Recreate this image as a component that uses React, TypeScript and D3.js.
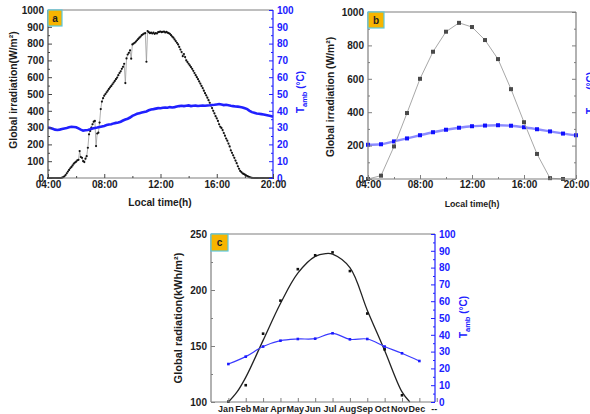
import React, { useEffect, useRef } from 'react';
import * as d3 from 'd3';

const WIDTH = 590;
const HEIGHT = 414;
const FONT = '"Liberation Sans", Arial, Helvetica, sans-serif';
const BLUE = '#2020ff';
const FRAME = '#7f7f7f';
const INK = '#1c1c1c';

// ---- (a) one measured day from 04:00, irradiation every 5 min, Tamb every 10 min
const A_START_HOUR = 4;
const A_IRR_STEP_MIN = 5;
const A_TEMP_STEP_MIN = 10;
const irradiationA = [
  /* 04 */ 0, 0, 0, 0, 0, 0, 0, 0, 0, 0, 0, 0,
  /* 05 */ 2, 5, 10, 18, 28, 38, 48, 58, 66, 75, 85, 92,
  /* 06 */ 97, 105, 108, 160, 125, 120, 100, 95, 115, 130, 180, 260,
  /* 07 */ 280, 300, 320, 335, 340, 190, 265, 270, 330, 410, 455, 475,
  /* 08 */ 490, 500, 510, 520, 530, 540, 548, 558, 568, 578, 588, 598,
  /* 09 */ 612, 625, 635, 650, 662, 680, 565, 712, 735, 745, 760, 710,
  /* 10 */ 795, 800, 805, 812, 820, 828, 835, 842, 850, 855, 860, 862,
  /* 11 */ 692, 875, 868, 862, 865, 860, 865, 858, 862, 860, 868, 870,
  /* 12 */ 872, 868, 870, 872, 866, 870, 865, 862, 858, 850, 842, 835,
  /* 13 */ 825, 815, 805, 795, 780, 765, 750, 725, 738, 720, 700, 690,
  /* 14 */ 680, 670, 660, 650, 638, 625, 612, 600, 588, 575, 562, 548,
  /* 15 */ 535, 520, 505, 492, 478, 463, 448, 432, 416, 400, 385, 368,
  /* 16 */ 355, 340, 320, 305, 298, 285, 268, 252, 235, 222, 205, 188,
  /* 17 */ 165, 150, 135, 120, 104, 88, 70, 55, 42, 35, 28, 24,
  /* 18 */ 20, 16, 12, 8, 5, 3, 1, 0, 0, 0, 0, 0,
  /* 19 */ 0, 0, 0, 0, 0, 0, 0, 0, 0, 0, 0, 0,
  /* 20 */ 0,
];
const tempA = [
  /* 04 */ 30, 29.8, 29.3, 28.8, 28.6, 28.8,
  /* 05 */ 29.2, 29.5, 29.8, 30.2, 30.5, 30.4,
  /* 06 */ 30.2, 29.5, 28.8, 28.2, 28.4, 28.6,
  /* 07 */ 29.0, 29.5, 29.8, 30.0, 30.4, 30.7,
  /* 08 */ 31.0, 31.5, 31.8, 32.0, 32.5, 32.8,
  /* 09 */ 33.0, 33.5, 34.2, 34.8, 35.3, 36.0,
  /* 10 */ 37.0, 37.6, 38.2, 38.6, 39.0, 39.3,
  /* 11 */ 39.6, 40.3, 40.8, 41.0, 41.3, 41.6,
  /* 12 */ 41.5, 41.8, 42.0, 41.8, 42.2, 42.0,
  /* 13 */ 42.2, 42.5, 42.8, 43.0, 42.8, 43.0,
  /* 14 */ 43.2, 42.8, 43.0, 43.1, 42.9, 43.0,
  /* 15 */ 43.1, 43.0, 43.2, 43.3, 43.5, 43.6,
  /* 16 */ 43.8, 44.0, 43.7, 43.4, 43.6, 43.3,
  /* 17 */ 43.0, 42.8, 42.6, 42.5, 42.3, 42.0,
  /* 18 */ 41.5, 41.0, 40.0, 39.2, 38.8, 38.4,
  /* 19 */ 38.2, 38.0, 37.8, 37.5, 37.2, 36.9,
  /* 20 */ 36.5,
];

// ---- (b) hourly mean day
const hoursB = [4, 5, 6, 7, 8, 9, 10, 11, 12, 13, 14, 15, 16, 17, 18, 19];
const irradiationB = [0, 20, 195, 395, 600, 762, 882, 935, 910, 832, 718, 538, 340, 150, 5, 0];
const hoursTempB = [4, 5, 6, 7, 8, 9, 10, 11, 12, 13, 14, 15, 16, 17, 18, 19, 20];
const tempB = [20.5, 20.8, 22.5, 24.3, 26.2, 28.0, 29.5, 30.7, 31.6, 32.0, 32.2, 31.9, 31.0, 29.8, 28.5, 27.2, 26.2];

// ---- (c) monthly totals
const monthLabels = ['Jan', 'Feb', 'Mar', 'Apr', 'May', 'Jun', 'Jul', 'Aug', 'Sep', 'Oct', 'Nov', 'Dec', '--'];
const radiationC = [100.3, 115, 161, 190.5, 218.6, 231, 233.6, 216.9, 179, 147, 106];
const tempC = [22.6, 27, 33, 36.5, 37.5, 37.7, 40.9, 37.3, 37.5, 33, 29, 24.4];
// fitted curve (month position, kWh/m²)
const fitPosC = [1, 1.5, 2, 3, 4, 5, 6, 6.6, 7, 8, 9, 10, 11, 11.45];
const fitValC = [100, 109, 122, 155, 188, 215, 230, 232.5, 232, 220, 182, 146, 109, 100];

// ticks
const timeMajor = [4, 8, 12, 16, 20];
const timeMinor = [6, 10, 14, 18];
const irrTicksA = [0, 100, 200, 300, 400, 500, 600, 700, 800, 900, 1000];
const irrMinorA = [50, 150, 250, 350, 450, 550, 650, 750, 850, 950];
const pctTicks = [0, 10, 20, 30, 40, 50, 60, 70, 80, 90, 100];
const pctMinor = [5, 15, 25, 35, 45, 55, 65, 75, 85, 95];
const irrTicksB = [0, 200, 400, 600, 800, 1000];
const irrMinorB = [100, 300, 500, 700, 900];
const tempTicksB = [0, 20, 40, 60, 80, 100];
const tempMinorB = [10, 30, 50, 70, 90];
const radTicksC = [100, 150, 200, 250];
const radMinorC = [125, 175, 225];

const hh = (h) => `${String(h).padStart(2, '0')}:00`;

function styleText(sel, color = INK, size = 10) {
  sel
    .attr('fill', color)
    .attr('font-family', FONT)
    .attr('font-weight', 'bold')
    .attr('font-size', size);
}

// inward ticks: majors 4px with labels, minors 2px
function axis(svg, make, scale, pos, majors, minors, color, labelColor, fmt, pad = 4) {
  const g = svg.append('g').attr('transform', pos);
  g.call(make(scale).tickValues(majors).tickSize(-4).tickPadding(pad).tickFormat(fmt));
  g.select('.domain').remove();
  g.selectAll('line').attr('stroke', color);
  styleText(g.selectAll('text'), labelColor);
  if (minors) {
    const m = svg.append('g').attr('transform', pos);
    m.call(make(scale).tickValues(minors).tickSize(-2).tickFormat(() => ''));
    m.select('.domain').remove();
    m.selectAll('line').attr('stroke', color);
  }
  return g;
}

function frame(svg, x0, x1, y0, y1, rightColor = FRAME, leftColor = FRAME) {
  const seg = (a, b, c, d, col) =>
    svg.append('line').attr('x1', a).attr('x2', b).attr('y1', c).attr('y2', d)
      .attr('stroke', col).attr('stroke-width', 1.2);
  seg(x0, x1, y0, y0, FRAME);
  seg(x0, x1, y1, y1, FRAME);
  seg(x0, x0, y0, y1, leftColor);
  seg(x1, x1, y0, y1, rightColor);
}

function badge(svg, x, y, w, h, label) {
  svg.append('rect').attr('x', x).attr('y', y).attr('width', w).attr('height', h)
    .attr('fill', '#f7b500').attr('stroke', '#5bc8dc').attr('stroke-width', 1.2);
  styleText(svg.append('text').attr('x', x + w / 2).attr('y', y + h / 2 + 3.5)
    .attr('text-anchor', 'middle').text(label), '#222', 10);
}

function vTitle(svg, x, y, parts, color, size) {
  const t = svg.append('text').attr('transform', `translate(${x},${y}) rotate(-90)`)
    .attr('text-anchor', 'middle');
  styleText(t, color, size);
  parts.forEach(([txt, kind]) => {
    const s = t.append('tspan').text(txt);
    if (kind === 'sub') s.attr('font-size', size * 0.75).attr('dy', 2.5);
    if (kind === 'after') s.attr('dy', -2.5);
  });
}

const tambParts = [['T', ''], ['amb', 'sub'], [' (°C)', 'after']];

export default function App() {
  const ref = useRef(null);

  useEffect(() => {
    const svg = d3.select(ref.current);
    svg.selectAll('*').remove();
    svg.append('rect').attr('width', WIDTH).attr('height', HEIGHT).attr('fill', 'white');

    // ================= (a)
    {
      const x = d3.scaleLinear().domain([4, 20]).range([48, 273]);
      const y = d3.scaleLinear().domain([0, 1000]).range([178, 10]);
      const t = d3.scaleLinear().domain([0, 100]).range([178, 10]);
      const irr = irradiationA.map((v, i) => ({ h: A_START_HOUR + (i * A_IRR_STEP_MIN) / 60, v }));
      const tmp = tempA.map((v, i) => ({ h: A_START_HOUR + (i * A_TEMP_STEP_MIN) / 60, v }));

      svg.append('path').datum(irr).attr('fill', 'none').attr('stroke', '#9a9a9a').attr('stroke-width', 0.8)
        .attr('d', d3.line().x((d) => x(d.h)).y((d) => y(d.v)));
      svg.append('g').selectAll('circle').data(irr).enter().append('circle')
        .attr('cx', (d) => x(d.h)).attr('cy', (d) => y(d.v)).attr('r', 1.1).attr('fill', '#111');

      svg.append('path').datum(tmp).attr('fill', 'none').attr('stroke', BLUE).attr('stroke-width', 2.6)
        .attr('d', d3.line().x((d) => x(d.h)).y((d) => t(d.v)));

      frame(svg, 48, 273, 10, 178, BLUE, '#444');
      axis(svg, d3.axisLeft, y, 'translate(48,0)', irrTicksA, irrMinorA, '#444', INK, (d) => d);
      axis(svg, d3.axisRight, t, 'translate(273,0)', pctTicks, pctMinor, BLUE, BLUE, (d) => d);
      axis(svg, d3.axisBottom, x, 'translate(0,178)', timeMajor, timeMinor, '#444', INK, hh, 3);
      badge(svg, 48, 10, 14, 16, 'a');

      vTitle(svg, 17, 90, [['Global irradiation(W/m²)', '']], INK, 10.3);
      vTitle(svg, 304, 92, tambParts, BLUE, 10);
      styleText(svg.append('text').attr('x', 160).attr('y', 206).attr('text-anchor', 'middle')
        .text('Local time(h)'), INK, 10.2);
    }

    // ================= (b)
    {
      const x = d3.scaleLinear().domain([4, 20]).range([368, 576]);
      const y = d3.scaleLinear().domain([0, 1000]).range([179, 12]);
      const t = d3.scaleLinear().domain([0, 100]).range([179, 12]);
      const irr = hoursB.map((h, i) => ({ h, v: irradiationB[i] }));
      const tmp = hoursTempB.map((h, i) => ({ h, v: tempB[i] }));

      svg.append('path').datum(tmp).attr('fill', 'none').attr('stroke', '#8c8cff').attr('stroke-width', 2.4)
        .attr('d', d3.line().x((d) => x(d.h)).y((d) => t(d.v)).curve(d3.curveMonotoneX));
      svg.append('g').selectAll('rect').data(tmp).enter().append('rect')
        .attr('x', (d) => x(d.h) - 2).attr('y', (d) => t(d.v) - 2).attr('width', 4).attr('height', 4)
        .attr('fill', '#1010ff');

      svg.append('path').datum(irr).attr('fill', 'none').attr('stroke', '#a8a8a8').attr('stroke-width', 1)
        .attr('d', d3.line().x((d) => x(d.h)).y((d) => y(d.v)));
      svg.append('g').selectAll('rect').data(irr).enter().append('rect')
        .attr('x', (d) => x(d.h) - 2).attr('y', (d) => y(d.v) - 2).attr('width', 4).attr('height', 4)
        .attr('fill', '#4a4a4a');

      frame(svg, 368, 576, 12, 179);
      axis(svg, d3.axisLeft, y, 'translate(368,0)', irrTicksB, irrMinorB, FRAME, INK, (d) => d);
      axis(svg, d3.axisRight, t, 'translate(576,0)', tempTicksB, tempMinorB, FRAME, INK, () => '');
      axis(svg, d3.axisBottom, x, 'translate(0,179)', timeMajor, timeMinor, FRAME, INK, hh, 2);
      badge(svg, 368, 12, 16, 16, 'b');

      vTitle(svg, 334, 97, [['Global irradiation (W/m²)', '']], INK, 10.3);
      vTitle(svg, 594, 93, tambParts, BLUE, 10);
      styleText(svg.append('text').attr('x', 472).attr('y', 207).attr('text-anchor', 'middle')
        .text('Local time(h)'), INK, 8.8);
    }

    // ================= (c)
    {
      const x = d3.scaleLinear().domain([0, 12.9]).range([211, 435]);
      const y = d3.scaleLinear().domain([100, 250]).range([402, 234]);
      const t = d3.scaleLinear().domain([0, 100]).range([402, 234]);
      const rad = radiationC.map((v, i) => ({ m: i + 1, v }));
      const tmp = tempC.map((v, i) => ({ m: i + 1, v }));
      const fit = fitPosC.map((m, i) => ({ m, v: fitValC[i] }));

      svg.append('path').datum(fit).attr('fill', 'none').attr('stroke', '#222').attr('stroke-width', 1.3)
        .attr('d', d3.line().x((d) => x(d.m)).y((d) => y(d.v)).curve(d3.curveCatmullRom.alpha(0.5)));
      svg.append('g').selectAll('rect').data(rad).enter().append('rect')
        .attr('x', (d) => x(d.m) - 1.3).attr('y', (d) => y(d.v) - 1.3).attr('width', 2.6).attr('height', 2.6)
        .attr('fill', '#111');

      svg.append('path').datum(tmp).attr('fill', 'none').attr('stroke', '#3a3aff').attr('stroke-width', 1.2)
        .attr('d', d3.line().x((d) => x(d.m)).y((d) => t(d.v)).curve(d3.curveCatmullRom.alpha(0.5)));
      svg.append('g').selectAll('rect').data(tmp).enter().append('rect')
        .attr('x', (d) => x(d.m) - 1.3).attr('y', (d) => t(d.v) - 1.3).attr('width', 2.6).attr('height', 2.6)
        .attr('fill', '#1a1aff');

      frame(svg, 211, 435, 234, 402, BLUE);
      axis(svg, d3.axisLeft, y, 'translate(211,0)', radTicksC, radMinorC, FRAME, INK, (d) => d);
      axis(svg, d3.axisRight, t, 'translate(435,0)', pctTicks, pctMinor, BLUE, BLUE, (d) => d);
      const xa = axis(svg, d3.axisBottom, x, 'translate(0,402)', monthLabels.map((_, i) => i + 1), null, FRAME, INK,
        (d) => monthLabels[d - 1], 4);
      xa.selectAll('text').attr('dx', -3).attr('font-size', 9);
      badge(svg, 211, 234, 17, 17, 'c');

      vTitle(svg, 182, 318, [['Global radiation(kWh/m²)', '']], INK, 11);
      vTitle(svg, 467, 317, tambParts, BLUE, 10);
    }
  }, []);

  return (
    <svg
      ref={ref}
      width={WIDTH}
      height={HEIGHT}
      style={{ position: 'absolute', left: 0, top: 0 }}
    />
  );
}
